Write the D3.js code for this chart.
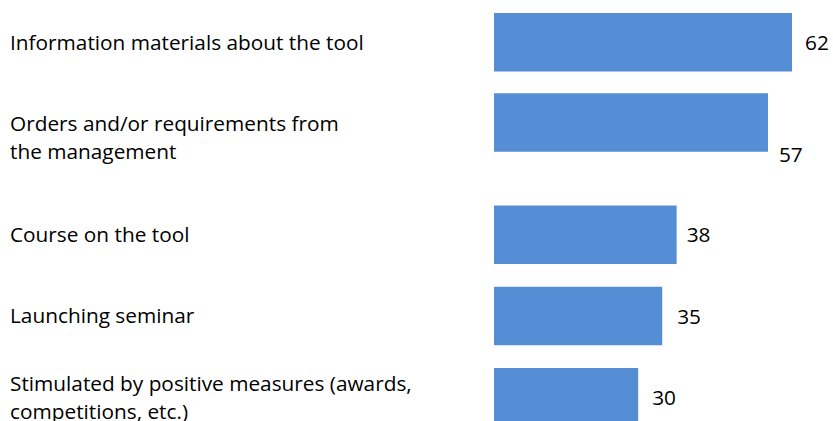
<!DOCTYPE html>
<html>
<head>
<meta charset="utf-8">
<script src="https://cdn.jsdelivr.net/npm/d3@7"></script>
<style>
  html, body { margin: 0; padding: 0; background: #fff; }
  svg { display: block; }
  text { font-family: "Open Sans", Lato, sans-serif; fill: #000; }
</style>
</head>
<body>
<svg id="chart" width="833" height="421"></svg>
<script>
// Categories (label lines) and their values
const categories = [
  "Information materials about the tool",
  "Orders and/or requirements from the management",
  "Course on the tool",
  "Launching seminar",
  "Stimulated by positive measures (awards, competitions, etc.)"
];
const labelLines = [
  ["Information materials about the tool"],
  ["Orders and/or requirements from", "the management"],
  ["Course on the tool"],
  ["Launching seminar"],
  ["Stimulated by positive measures (awards,", "competitions, etc.)"]
];
const values = [62, 57, 38, 35, 30];

// Layout: per-row nudges (px) for bars, category labels and value labels
const barNudge   = [-30, -31, 0, 0, 0];
const labelNudge = [-30, -15.5, 0, 0, 0];
const valueNudge = [-30, 1.5, 0, 0.5, 0.5];
const valueDx    = [1, -1, -2, 3, 2];

const fontSize = 20.8, lineHeight = 28, capMid = 0.357;
const svg = d3.select("#chart");

const x = d3.scaleLinear().domain([0, 62]).range([494, 792]);
const y = d3.scaleBand().domain(categories).range([43, 426.5]).paddingInner(0.28).paddingOuter(0);

const rows = categories.map((c, i) => ({ c, i, v: values[i], lines: labelLines[i] }));

// Bars
svg.append("g").selectAll("rect").data(rows).join("rect")
  .attr("x", x(0))
  .attr("y", d => y(d.c) + barNudge[d.i])
  .attr("width", d => x(d.v) - x(0))
  .attr("height", y.bandwidth())
  .attr("fill", "#558ED5");

// Category labels, cap-height centred on the row
const lab = svg.append("g").selectAll("text").data(rows).join("text")
  .attr("font-size", fontSize);
lab.selectAll("tspan")
  .data(d => {
    const c = y(d.c) + y.bandwidth() / 2 + labelNudge[d.i];
    const first = c - (d.lines.length - 1) * lineHeight / 2 + capMid * fontSize;
    return d.lines.map((t, k) => ({ t, yy: first + k * lineHeight }));
  })
  .join("tspan")
  .attr("x", 10)
  .attr("y", d => d.yy)
  .text(d => d.t);

// Value labels
svg.append("g").selectAll("text").data(rows).join("text")
  .attr("x", d => x(d.v) + 12 + valueDx[d.i])
  .attr("y", d => y(d.c) + y.bandwidth() / 2 + valueNudge[d.i] + capMid * fontSize)
  .attr("font-size", fontSize)
  .text(d => d.v);
</script>
</body>
</html>
